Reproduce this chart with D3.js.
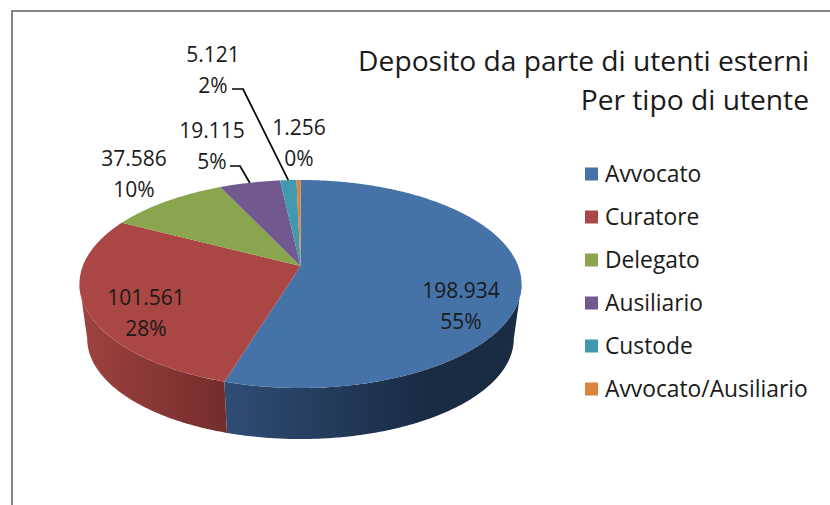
<!DOCTYPE html>
<html>
<head>
<meta charset="utf-8">
<script src="https://cdn.jsdelivr.net/npm/d3@7.9.0/dist/d3.min.js"></script>
<style>
  html, body { margin: 0; padding: 0; background: #fff; }
  svg { display: block; }
  text { font-family: "Open Sans", Lato, sans-serif; fill: #1a1a1a; font-variant-ligatures: none; }
</style>
</head>
<body>
<svg id="chart" width="830" height="505"></svg>
<script>
const categories = ["Avvocato", "Curatore", "Delegato", "Ausiliario", "Custode", "Avvocato/Ausiliario"];
const values = [198934, 101561, 37586, 19115, 5121, 1256];
const percentLabels = ["55%", "28%", "10%", "5%", "2%", "0%"];
const titleLines = ["Deposito da parte di utenti esterni", "Per tipo di utente"];
const colors = ["#4572A7", "#AA4643", "#89A54E", "#71588F", "#4198AF", "#DB843D"];

const W = 830, H = 505;
const svg = d3.select("#chart");

// frame, only left and top show up in the crop
svg.append("path")
  .attr("d", `M12,${H}V11H${W}`)
  .attr("fill", "none")
  .attr("stroke", "#868686")
  .attr("stroke-width", 2);

// --- perspective: a flat circle seen from above, apex sits above the ellipse centre ---
const apex = { x: 300.5, y: 266 };
const tilt = 0.173, rx = 217.7, ry = 100.9;
// lower rim is further from the eye, so it shrinks a little around the apex
const lowerScale = 0.965, lowerDrop = 55.3;

function project(a, lower = false) {
  const u = Math.sin(a), v = -Math.cos(a), w = 1 - tilt * v;
  const k = lower ? lowerScale : 1;
  return [apex.x + k * rx * u / w, apex.y + k * ry * v / w + (lower ? lowerDrop : 0)];
}

function rim(a0, a1, lower = false) {
  const n = Math.max(2, Math.ceil((a1 - a0) / 0.01));
  return d3.range(n + 1).map(i => project(a0 + (a1 - a0) * i / n, lower));
}

const line = d3.line();
const pie = d3.pie().sort(null)(values);

// silhouette of the disc: the wall only shows between these two angles
const frontStart = Math.acos(-tilt);
const frontEnd = 2 * Math.PI - frontStart;

const defs = svg.append("defs");
const wallStops = [
  ["#2f4d75", "#1a2b44"],
  ["#9e4240", "#742d2b"]
];

const walls = svg.append("g");
pie.forEach((s, i) => {
  const a0 = Math.max(s.startAngle, frontStart);
  const a1 = Math.min(s.endAngle, frontEnd);
  if (a1 <= a0) return;

  const top = rim(a0, a1);
  const bottom = rim(a0, a1, true).reverse();
  const xs = top.map(p => p[0]);
  const grad = defs.append("linearGradient")
    .attr("id", `wall${i}`)
    .attr("gradientUnits", "userSpaceOnUse")
    .attr("x1", d3.min(xs))
    .attr("x2", i === 0 ? d3.min(xs) + 200 : d3.max(xs))
    .attr("y1", 0).attr("y2", 0);
  const st = wallStops[i];
  grad.append("stop").attr("offset", "0%").attr("stop-color", st[0]);
  grad.append("stop").attr("offset", "100%").attr("stop-color", st[1]);

  walls.append("path")
    .attr("d", line(top.concat(bottom)) + "Z")
    .attr("fill", `url(#wall${i})`);
});

svg.append("g").selectAll("path")
  .data(pie)
  .join("path")
  .attr("d", d => line([[apex.x, apex.y]].concat(rim(d.startAngle, d.endAngle))) + "Z")
  .attr("fill", (d, i) => colors[i]);

// --- data labels ---
const valueFormat = d3.formatLocale({ decimal: ",", thousands: ".", grouping: [3], currency: ["", ""] }).format(",d");
const labelAt = [[461, 291], [146, 298], [134, 159], [212, 131], [213, 55], [299, 128]];
const labelGap = 31;

const labels = svg.append("g").attr("font-size", 21).attr("text-anchor", "middle");
labelAt.forEach((p, i) => {
  labels.append("text").attr("x", p[0]).attr("y", p[1] + 7).text(valueFormat(values[i]));
  labels.append("text").attr("x", p[0]).attr("y", p[1] + 7 + labelGap).text(percentLabels[i]);
});

// leader lines, run from next to the label to the slice's rim
const leaders = [
  { slice: 3, from: [[230, 166], [240, 166]] },
  { slice: 4, from: [[232, 89], [243, 89]] }
];
leaders.forEach(l => {
  const s = pie[l.slice];
  const end = project((s.startAngle + s.endAngle) / 2);
  svg.append("path")
    .attr("d", line(l.from.concat([end])))
    .attr("fill", "none")
    .attr("stroke", "#000")
    .attr("stroke-width", 1.7);
});

// --- title ---
svg.append("g").attr("font-size", 28.2).attr("text-anchor", "end")
  .selectAll("text").data(titleLines).join("text")
  .attr("x", 809)
  .attr("y", (d, i) => 71 + i * 39)
  .text(d => d);

// --- legend ---
const legendY = d3.scalePoint().domain(categories).range([174, 389]);
const legend = svg.append("g").selectAll("g").data(categories).join("g")
  .attr("transform", d => `translate(585,${legendY(d)})`);
legend.append("rect")
  .attr("y", -6.5).attr("width", 13).attr("height", 13)
  .attr("fill", (d, i) => colors[i]);
legend.append("text")
  .attr("x", 20).attr("y", 7.5)
  .attr("font-size", 22.8)
  .text(d => d);
</script>
</body>
</html>
